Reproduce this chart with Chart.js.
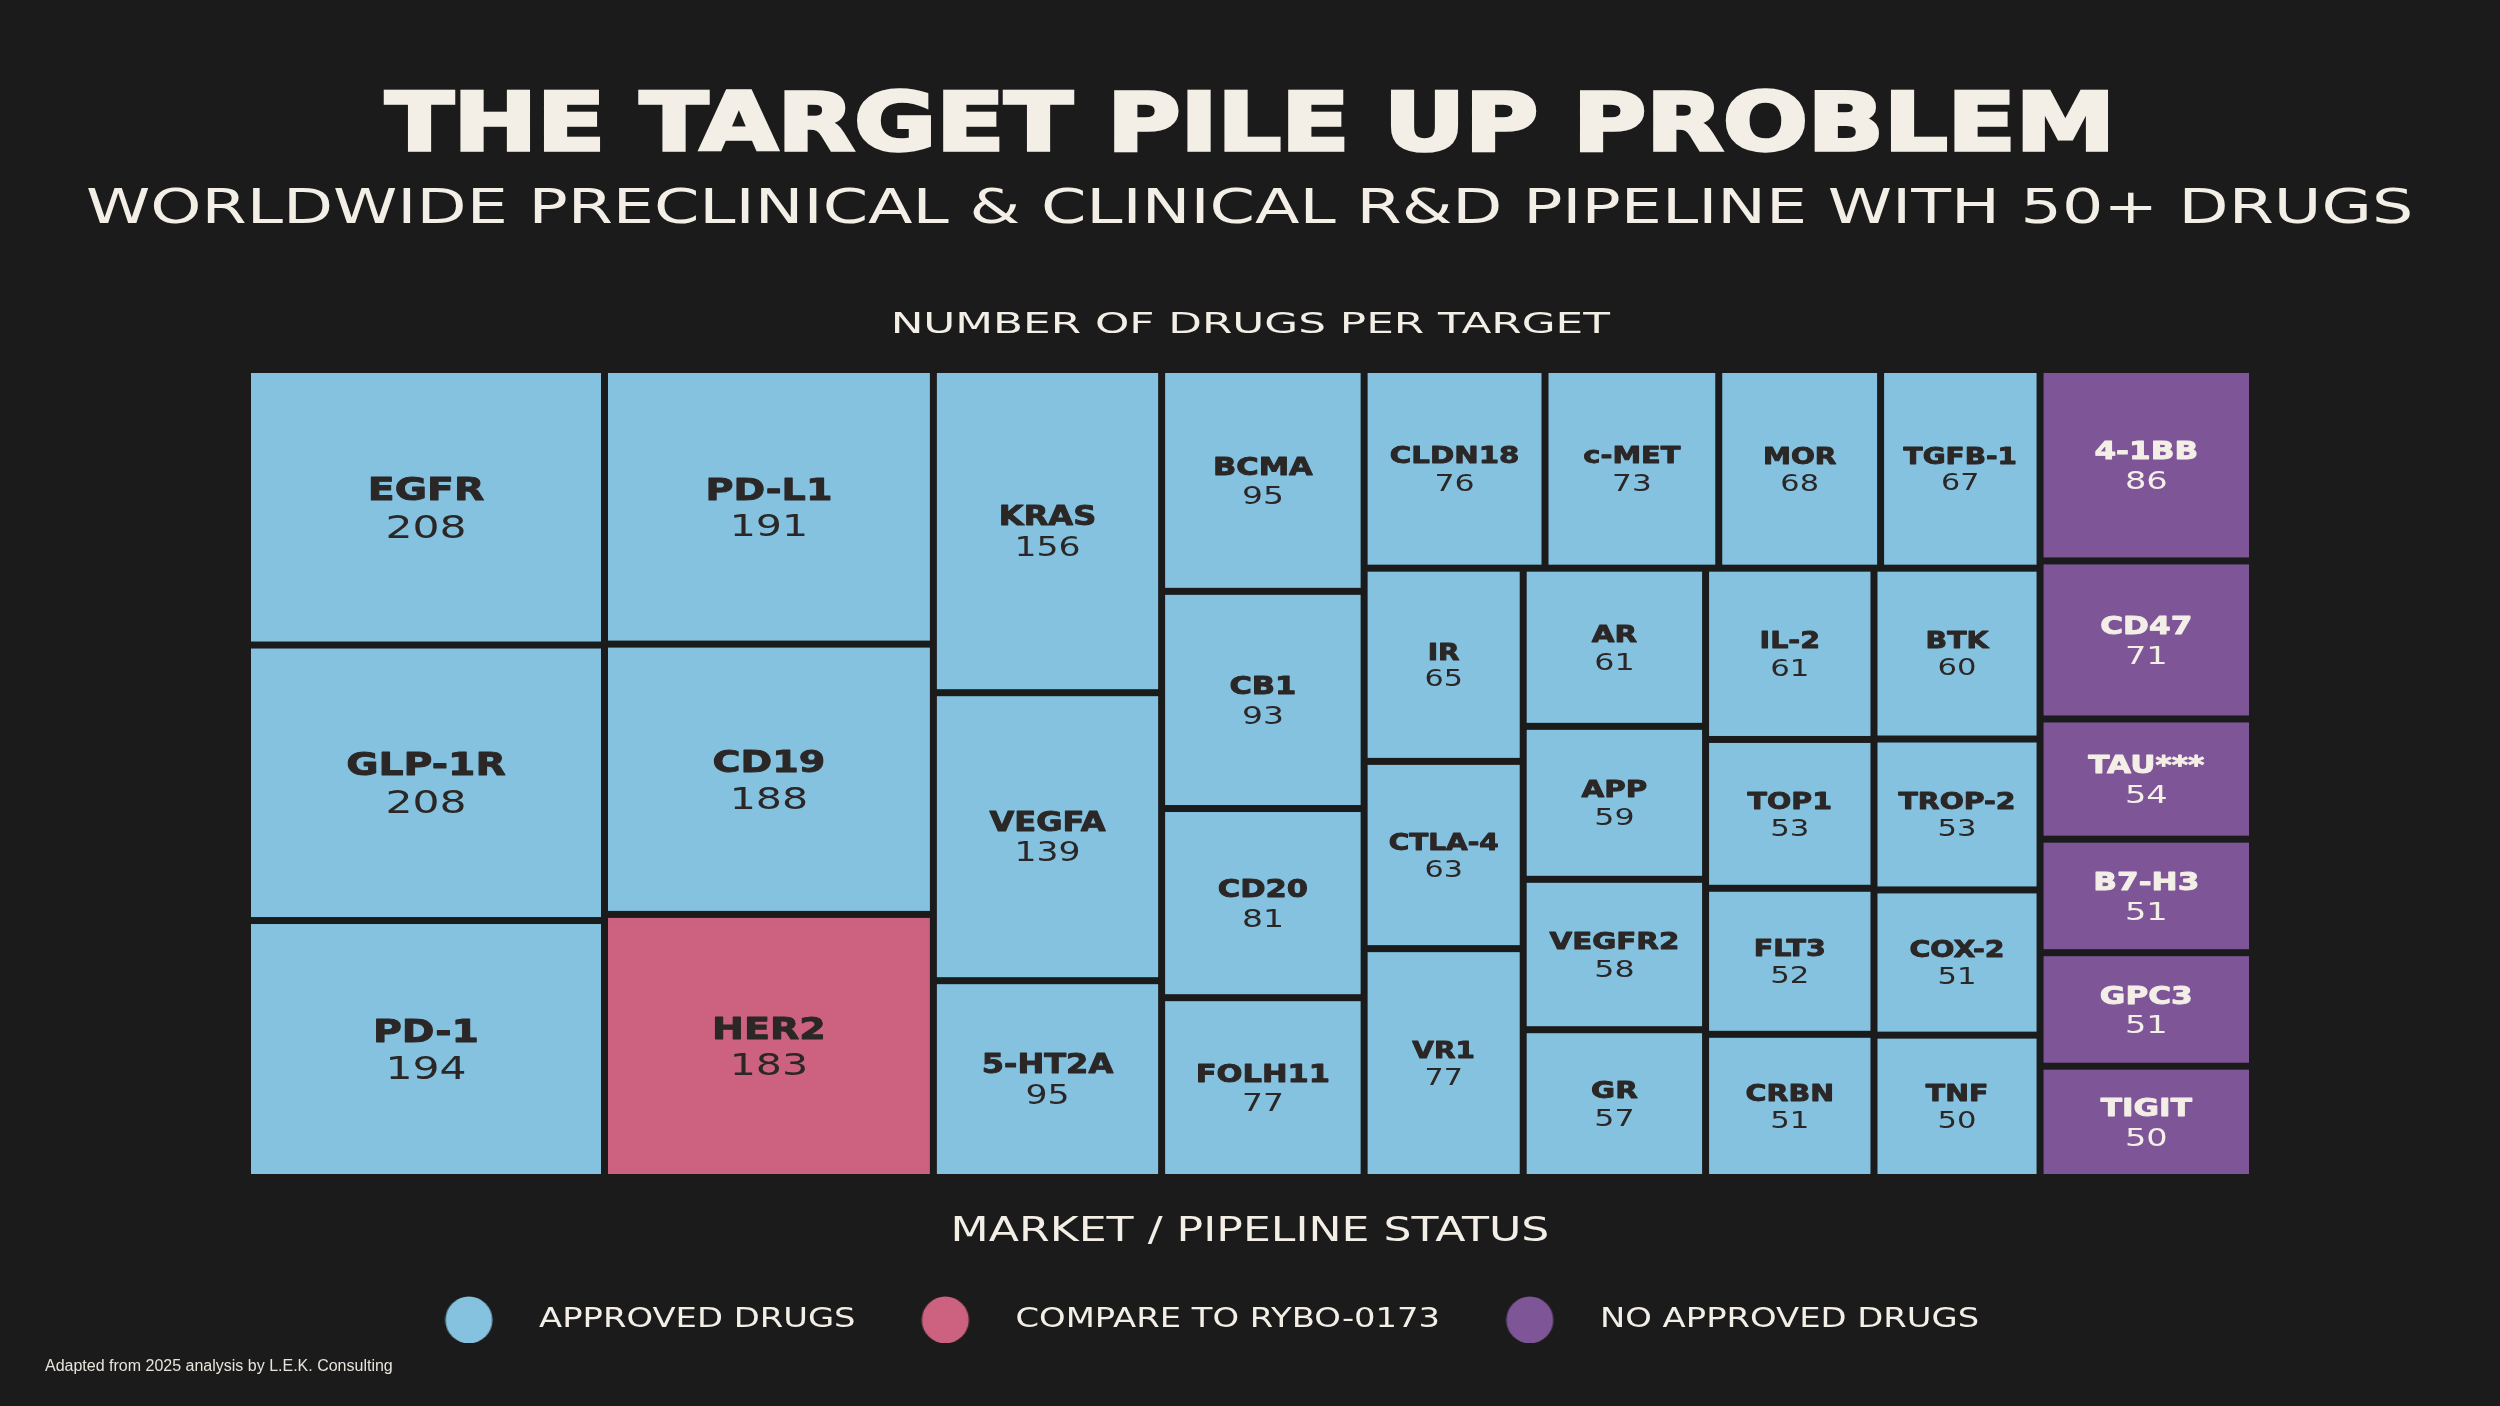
<!DOCTYPE html>
<html lang="en">
    <head>
        <meta charset="UTF-8">
        <meta name="viewport" content="width=device-width, initial-scale=1.0">
        <title>The Target Pile Up Problem</title>
        <style>
            body {
                margin: 0;
                width: 2500px;
                height: 1406px;
                overflow: hidden;
                position: relative;
                background-color: #1b1b1b;
            }

            #chart {
                position: absolute;
                left: 0;
                top: 0;
            }

            .line {
                position: absolute;
                left: 0;
                width: 2500px;
                text-align: center;
                color: #f3efe7;
                line-height: 1;
                white-space: nowrap;
                font-family: "DejaVu Sans", sans-serif;
            }

            .line span {
                display: inline-block;
            }

            #title {
                top: 83px;
                font-size: 80px;
                font-weight: bold;
            }

            #title span {
                -webkit-text-stroke: 3.5px #f3efe7;
            }

            #subtitle {
                top: 182px;
                font-size: 48px;
            }

            #heading {
                top: 310px;
                font-size: 27.5px;
            }

            #note {
                position: absolute;
                left: 45px;
                top: 1357px;
                font: 16px "Liberation Sans", sans-serif;
                color: #e8e4dc;
            }
        </style>
    </head>
    <body>
        <canvas id="chart" width="2500" height="1406"></canvas>
        <div class="line" id="title"><span>THE TARGET PILE UP PROBLEM</span></div>
        <div class="line" id="subtitle"><span>WORLDWIDE PRECLINICAL &amp; CLINICAL R&amp;D PIPELINE WITH 50+ DRUGS</span></div>
        <div class="line" id="heading"><span>NUMBER OF DRUGS PER TARGET</span></div>
        <div id="note">Adapted from 2025 analysis by L.E.K. Consulting</div>

        <script src="https://cdn.jsdelivr.net/npm/chart.js@4"></script>
        <script>
            //data: targets in the order they are tiled
            const targets = ['EGFR', 'GLP-1R', 'PD-1', 'PD-L1', 'CD19', 'HER2', 'KRAS', 'VEGFA', '5-HT2A',
                             'BCMA', 'CB1', 'CD20', 'FOLH11', 'CLDN18', 'c-MET', 'MOR', 'TGFB-1',
                             'IR', 'CTLA-4', 'VR1', 'AR', 'APP', 'VEGFR2', 'GR', 'IL-2', 'TOP1', 'FLT3', 'CRBN',
                             'BTK', 'TROP-2', 'COX-2', 'TNF', '4-1BB', 'CD47', 'TAU***', 'B7-H3', 'GPC3', 'TIGIT'];

            const drugCounts = [208, 208, 194, 191, 188, 183, 156, 139, 95,
                                95, 93, 81, 77, 76, 73, 68, 67,
                                65, 63, 77, 61, 59, 58, 57, 61, 53, 52, 51,
                                60, 53, 51, 50, 86, 71, 54, 51, 51, 50];

            //0 = approved drugs, 1 = compare to RYBO-0173, 2 = no approved drugs
            const status = [0, 0, 0, 0, 0, 1, 0, 0, 0,
                            0, 0, 0, 0, 0, 0, 0, 0,
                            0, 0, 0, 0, 0, 0, 0, 0, 0, 0, 0,
                            0, 0, 0, 0, 2, 2, 2, 2, 2, 2];

            const statusLabels = ['APPROVED DRUGS', 'COMPARE TO RYBO-0173', 'NO APPROVED DRUGS'];

            //how the targets are grouped into strips ('h' = side by side, 'v' = stacked), number = next n targets
            const tiling = ['h', [['v', 3], ['v', 3], ['v', 3], ['v', 4],
                                  ['v', [['h', 4], ['h', [['v', 3], ['v', 4], ['v', 4], ['v', 4]]]]],
                                  ['v', 6]]];

            //styles
            const cream = '#f3efe7';
            const ink = '#2b2727';
            const statusColors = ['#85c2e0', '#cc6280', '#7e5698'];
            const statusInk = [ink, ink, cream];
            const textStretch = 1.3;          //wide lettering for legend

            //stretch html headings to the width of the original lettering
            function stretch(id, width) {
                const span = document.querySelector('#' + id + ' span');
                span.style.transform = 'scaleX(' + (width / span.offsetWidth) + ')';
            }
            stretch('title', 1729);
            stretch('subtitle', 2327);
            stretch('heading', 720);

            //slice layout in value space (0..1 on both axes)
            let cursor = 0;
            function expand(node) {
                const [dir, kids] = node;
                const children = typeof kids === 'number'
                    ? Array.from({length: kids}, () => cursor++)
                    : kids.map(expand);
                return {dir, children};
            }
            function total(c) {
                return typeof c === 'number' ? drugCounts[c] : c.children.reduce((s, k) => s + total(k), 0);
            }
            function place(node, x0, y0, x1, y1, rects) {
                const sum = total(node);
                let pos = node.dir === 'h' ? x0 : y0;
                node.children.forEach(c => {
                    const span = (node.dir === 'h' ? x1 - x0 : y1 - y0) * total(c) / sum;
                    const r = node.dir === 'h' ? [pos, y0, pos + span, y1] : [x0, pos, x1, pos + span];
                    pos += span;
                    if (typeof c === 'number') rects[c] = r;
                    else place(c, r[0], r[1], r[2], r[3], rects);
                });
                return rects;
            }
            const tileRects = place(expand(tiling), 0, 0, 1, 1, []);

            //one tile of the treemap
            class TileElement extends Chart.Element {
                draw(ctx) {
                    const {x0, y0, x1, y1, label, value, options} = this;
                    if (!isFinite(x0) || !isFinite(y0)) return;
                    const w = x1 - x0;
                    const cx = (x0 + x1) / 2, cy = (y0 + y1) / 2;
                    const cap = Math.max(15.5, Math.min(23, 11 + w * 0.035));
                    const fs = cap / 0.73;
                    ctx.save();
                    ctx.fillStyle = options.backgroundColor;
                    ctx.fillRect(x0, y0, w, y1 - y0);
                    ctx.fillStyle = options.color;
                    ctx.strokeStyle = options.color;
                    ctx.lineWidth = 0.9;
                    ctx.lineJoin = 'round';
                    ctx.textAlign = 'center';
                    ctx.textBaseline = 'alphabetic';
                    ctx.translate(cx, cy);
                    ctx.save();
                    ctx.scale(1.25, 1);
                    ctx.font = 'bold ' + fs + 'px "DejaVu Sans"';
                    ctx.fillText(label, 0, -0.6 * fs + cap / 2);
                    ctx.strokeText(label, 0, -0.6 * fs + cap / 2);
                    ctx.restore();
                    ctx.scale(1.35, 1);
                    ctx.font = fs + 'px "DejaVu Sans"';
                    ctx.fillText(String(value), 0, 0.6 * fs + cap / 2);
                    ctx.restore();
                }
            }
            TileElement.id = 'tile';
            TileElement.defaults = {};

            class TileController extends Chart.DatasetController {
                update(mode) {
                    const meta = this._cachedMeta;
                    this.updateElements(meta.data, 0, meta.data.length, mode);
                }
                updateElements(tiles, start, count) {
                    const {xScale, yScale} = this._cachedMeta;
                    const inset = 3.5;                                      //half of the dark gap between tiles
                    for (let i = start; i < start + count; i++) {
                        const r = tileRects[i];
                        const s = status[i];
                        Object.assign(tiles[i], {
                            x0: xScale.getPixelForValue(r[0]) + inset,
                            y0: yScale.getPixelForValue(r[1]) + inset,
                            x1: xScale.getPixelForValue(r[2]) - inset,
                            y1: yScale.getPixelForValue(r[3]) - inset,
                            label: targets[i],
                            value: drugCounts[i],
                            options: {backgroundColor: statusColors[s], color: statusInk[s]}
                        });
                    }
                }
            }
            TileController.id = 'tiles';
            TileController.defaults = {dataElementType: 'tile', datasetElementType: false};

            Chart.register(TileElement, TileController);

            //legend dots: drawn narrow so they come out round after the stretch,
            //and placed left of the (1px) legend box so the texts stay centred
            const legendDots = statusColors.map(color => {
                const c = document.createElement('canvas');
                c.width = 140;
                c.height = 48;
                const g = c.getContext('2d');
                g.fillStyle = color;
                g.beginPath();
                g.ellipse(29.5, 24, 23.5 / textStretch, 23.5, 0, 0, Math.PI * 2);
                g.fill();
                return c;
            });

            //stretch legend lettering around the page centre
            const wideText = {
                id: 'wideText',
                beforeDraw(chart) {
                    const ctx = chart.ctx;
                    const mid = chart.width / 2;
                    ctx.save();
                    ctx.translate(mid, 0);
                    ctx.scale(textStretch, 1);
                    ctx.translate(-mid, 0);
                },
                beforeDatasetsDraw(chart) {
                    chart.ctx.restore();
                }
            };

            const config = {
                type: 'tiles',
                data: {
                    labels: targets,
                    datasets: [{
                        label: 'Number of drugs per target',
                        data: drugCounts
                    }]
                },
                options: {
                    responsive: false,
                    animation: false,
                    devicePixelRatio: 1,
                    events: [],
                    layout: {
                        padding: {left: 247.5, right: 247.5, top: 369.5, bottom: 63}
                    },
                    scales: {
                        x: {type: 'linear', min: 0, max: 1, display: false},
                        y: {type: 'linear', min: 0, max: 1, reverse: true, display: false}
                    },
                    plugins: {
                        tooltip: {enabled: false},
                        title: {display: false},
                        legend: {
                            position: 'bottom',
                            align: 'center',
                            title: {
                                display: true,
                                text: 'MARKET / PIPELINE STATUS',
                                color: cream,
                                font: {family: 'DejaVu Sans', size: 34},
                                padding: {top: 37.5, bottom: -57.8}
                            },
                            labels: {
                                usePointStyle: true,
                                pointStyleWidth: 1,
                                padding: 109,
                                color: cream,
                                font: {family: 'DejaVu Sans', size: 26},
                                generateLabels: () => statusLabels.map((text, i) => ({
                                    text: text,
                                    fontColor: cream,
                                    pointStyle: legendDots[i],
                                    lineWidth: 0,
                                    hidden: false,
                                    datasetIndex: 0
                                }))
                            }
                        }
                    }
                },
                plugins: [wideText]
            };

            const myChart = new Chart(document.getElementById('chart'), config);
        </script>
    </body>
</html>
